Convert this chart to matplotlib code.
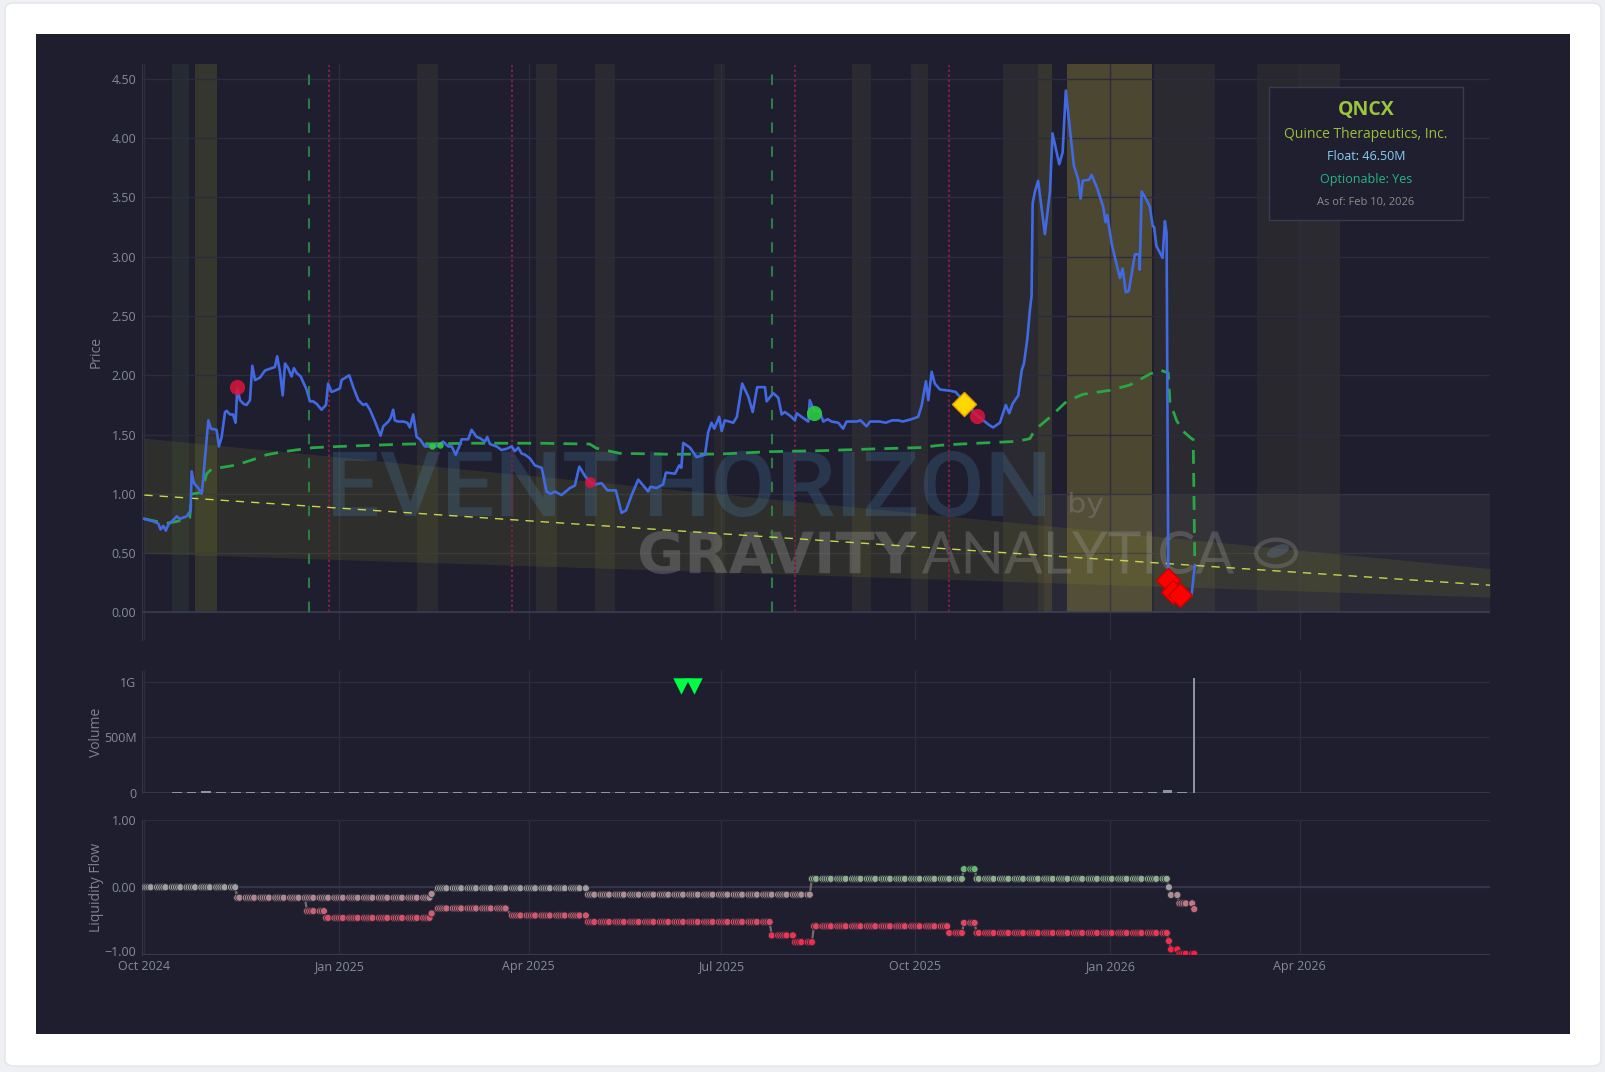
import numpy as np
import pandas as pd
import matplotlib
matplotlib.use("Agg")
import matplotlib.pyplot as plt
import matplotlib.dates as mdates
from matplotlib.colors import LinearSegmentedColormap, Normalize
from matplotlib.patches import Rectangle, FancyBboxPatch, PathPatch, Circle, Ellipse
from matplotlib.textpath import TextPath
from matplotlib.font_manager import FontProperties
from matplotlib.transforms import Affine2D, ScaledTranslation

plt.rcParams["font.family"] = ["Open Sans", "DejaVu Sans"]

W, H = 1606, 1072
BG = "#1e1e2e"
START = pd.Timestamp("2024-10-01")

# ---- price (days after START) ----
price_day = [0, 4, 6.6, 7.7, 9, 10.2, 11.3, 13.7, 15.3, 16.8, 20, 21.9, 22.4, 23.5, 25.5, 27.1, 27.9, 28.5,
             30.3, 31.5, 34.2, 35.3, 36.6, 38.2, 39, 40.5, 42, 43.2, 44, 45.3, 46.9, 48.4, 50, 51.1, 52.4,
             54.7, 57.1, 60.3, 61.8, 62.9, 64.2, 65.5, 66.6, 68.1, 69.7, 70.8, 72.1, 74, 76.8, 78.4, 79.9,
             81.5, 83.9, 86, 87, 88.6, 90.2, 92.6, 93.4, 97, 98.9, 101.3, 103.6, 105, 106.8, 109.2, 111.8,
             113.1, 115.5, 116.6, 117.8, 118.6, 120, 122.6, 124.5, 125.7, 127.3, 128.9, 130.5, 132.8, 135.2,
             138, 141.5, 143.9, 145.5, 147.4, 149.1, 150.2, 153.3, 154.9, 157.3, 158.9, 161.2, 162.3, 163.6,
             166.8, 169.1, 171.5, 173.9, 175.4, 177, 178.6, 180.2, 182.5, 184.9, 188.1, 190.4, 192.3, 194.3,
             197.5, 201.5, 203.8, 205.9, 208.6, 210.9, 213.3, 216.5, 219.2, 223.2, 225.9, 228, 230.7, 233.8,
             236.2, 238.5, 239.5, 242.5, 245.6, 246.9, 251.2, 253.2, 254.2, 255.1, 258.3, 261.4, 265.4, 266.9,
             268.5, 269.8, 272.1, 273.3, 274.8, 278.8, 280.5, 283, 285.9, 288, 290.1, 293.8, 294.6, 297.7,
             300.1, 301.7, 303.2, 305.6, 308, 308.8, 311.1, 314.3, 315, 317, 319.5, 321.4, 323.5, 325.3,
             328.5, 330.8, 332.4, 337.2, 339, 341.9, 343.5, 348, 351, 354, 357, 359, 363.2, 366.3, 367.9,
             370, 371.1, 372.7, 374.2, 376.6, 381.3, 384, 386, 388, 390, 392.4, 394.3, 397.1, 400, 401.8,
             405, 407.8, 409.4, 411, 413.7, 415.3, 416.4, 418, 419.2, 420, 420.5, 421.6, 423.1, 426.3, 428.7,
             429.9, 433.1, 434.7, 436.2, 440, 442.1, 443.2, 444.2, 447.3, 448.4, 450.8, 453.9, 455, 455.8,
             457.9, 460.2, 461.8, 463.1, 464.6, 466, 468.9, 470.9, 471.2, 472.1, 474.4, 476, 477.3, 478,
             479.1, 482, 483.1, 483.9, 484.7, 486, 488, 490, 495.7, 497.3]
price_val = [0.79, 0.77, 0.75, 0.70, 0.73, 0.69, 0.74, 0.78, 0.81, 0.79, 0.81, 0.86, 1.19, 1.09, 1.05, 1.00, 1.12, 1.26,
             1.62, 1.55, 1.54, 1.40, 1.48, 1.69, 1.70, 1.67, 1.67, 1.60, 1.89, 1.79, 1.76, 1.75, 1.79, 2.08, 1.96,
             1.98, 2.04, 2.06, 2.07, 2.16, 2.03, 1.83, 2.10, 2.06, 1.99, 2.06, 2.02, 1.99, 1.88, 1.78, 1.78,
             1.76, 1.71, 1.75, 1.93, 1.86, 1.87, 1.89, 1.96, 2.00, 1.90, 1.79, 1.75, 1.76, 1.71, 1.61, 1.49,
             1.57, 1.61, 1.64, 1.71, 1.62, 1.61, 1.61, 1.60, 1.56, 1.67, 1.48, 1.46, 1.40, 1.40,
             1.40, 1.44, 1.40, 1.40, 1.33, 1.40, 1.46, 1.46, 1.54, 1.48, 1.47, 1.44, 1.48, 1.42,
             1.40, 1.37, 1.38, 1.40, 1.36, 1.39, 1.34, 1.33, 1.30, 1.24, 1.22, 1.02, 1.00, 1.02,
             0.99, 1.05, 1.07, 1.23, 1.15, 1.10, 1.08, 1.09, 1.03, 1.03, 0.84, 0.86, 0.99, 1.12,
             1.07, 1.02, 1.06, 1.05, 1.08, 1.18, 1.17, 1.24, 1.22, 1.43, 1.39, 1.31, 1.33, 1.52,
             1.60, 1.55, 1.65, 1.53, 1.62, 1.60, 1.65, 1.93, 1.82, 1.69, 1.90, 1.90, 1.78, 1.85,
             1.81, 1.67, 1.69, 1.66, 1.62, 1.68, 1.65, 1.61, 1.79, 1.70, 1.70, 1.61, 1.63, 1.61,
             1.60, 1.55, 1.61, 1.61, 1.62, 1.57, 1.61, 1.61, 1.60, 1.62, 1.62, 1.61, 1.63, 1.65, 1.74,
             1.95, 1.79, 2.03, 1.93, 1.88, 1.87, 1.86, 1.82, 1.78, 1.78, 1.69, 1.66, 1.62, 1.58, 1.56,
             1.60, 1.75, 1.68, 1.76, 1.83, 2.04, 2.10, 2.31, 2.55, 2.67, 3.45, 3.55, 3.64, 3.19, 3.55,
             4.04, 3.78, 3.88, 4.40, 3.77, 3.65, 3.49, 3.64, 3.65, 3.69, 3.59, 3.42, 3.29, 3.35,
             3.11, 2.94, 2.82, 2.90, 2.70, 2.71, 3.02, 3.02, 2.89, 3.55, 3.48, 3.42, 3.26, 3.25,
             3.09, 2.99, 3.30, 3.20, 0.37, 0.28, 0.18, 0.15, 0.14, 0.40]

# dashed green level line
level_day = [0, 10, 16, 21.5, 22.5, 27, 29.5, 31.9, 37.4, 43.7, 51.6, 57.9, 65.8, 80, 92.6, 108.3, 124.2,
             155.7, 187.3, 210.9, 214, 225, 248.7, 272.4, 296, 319.8, 343.5, 367, 376.6, 386.1, 413,
             419.2, 421.6, 428.7, 436.6, 444.4, 457, 466.5, 476, 480.7, 484.7, 485.5, 488.7, 491.8,
             495.7, 496.5, 497.3]
level_val = [0.79, 0.75, 0.77, 0.80, 1.00, 1.01, 1.17, 1.21, 1.225, 1.244, 1.29, 1.33, 1.356, 1.39, 1.40, 1.41, 1.42,
             1.427, 1.427, 1.42, 1.385, 1.342, 1.334, 1.336, 1.356, 1.364, 1.378, 1.39, 1.41, 1.42, 1.443,
             1.466, 1.54, 1.647, 1.78, 1.84, 1.873, 1.918, 2.01, 2.045, 2.02, 1.77, 1.617, 1.527,
             1.466, 1.46, 0.38]

# trend channel
trend_day = [0, 637]
trend_mid = [0.99, 0.23]
trend_hi = [1.47, 0.37]
trend_lo = [0.50, 0.13]

# sub-$1 zone on the right
zone_day = [426, 637]
zone_val = [0, 1.0]

# background regime bands
band_start = [13.1, 24, 129, 185.2, 213.3, 269.6, 335, 363, 406.3, 423.1, 436.6, 478, 526.5, 546]
band_end = [21.1, 34.2, 139, 195.2, 223, 274.8, 344.2, 371, 423.1, 429.5, 476.8, 507, 546, 566]
band_color = ["#252a33", "#35362d", "#2b2a31", "#2b2a31", "#2b2a31", "#27262e", "#2b2a31", "#2b2a31",
              "#2b2a31", "#37352f", "#4c4731", "#2b2a31", "#29282f", "#2b2a30"]

green_vline_day = [78, 297.2]
red_vline_day = [87.3, 174, 307.9, 381]

# signal markers
sell_day = [44, 394.3]
sell_val = [1.90, 1.653]
small_sell_day = [210.9]
small_sell_val = [1.10]
small_buy_day = [136, 140]
small_buy_val = [1.40, 1.41]
buy_day = [317]
buy_val = [1.685]
warn_day = [388]
warn_val = [1.76]
exit_day = [484.8, 486.8, 490.2]
exit_val = [0.277, 0.173, 0.147]

# volume (weekly bars, millions) + last-day spike
vol_day = [13, 20, 27, 34, 41, 48, 55, 62, 69, 76, 83, 90, 97, 104, 111, 118, 125, 132, 139, 146, 153, 160,
           167, 174, 181, 188, 195, 202, 209, 216, 223, 230, 237, 244, 251, 258, 265, 272, 279, 286, 293, 300,
           307, 314, 321, 328, 335, 342, 349, 356, 363, 370, 377, 384, 391, 398, 405, 412, 419, 426, 433, 440,
           447, 454, 461, 468, 475, 482, 489]
vol_m = [9, 11, 16, 10, 9, 12, 8, 9, 10, 9, 8, 10, 9, 8, 9, 10, 8, 9, 9, 8, 10, 9,
         8, 9, 10, 8, 9, 9, 10, 8, 9, 10, 9, 8, 10, 9, 8, 9, 10, 9, 8, 9,
         10, 9, 8, 9, 10, 9, 8, 9, 10, 9, 8, 9, 10, 9, 8, 9, 10, 9, 8, 9,
         10, 9, 8, 9, 12, 26, 12]
spike_day = [497]
spike_m = [1035]
vol_signal_day = [254, 260.3]
vol_signal_m = [964, 964]

# liquidity flow step levels
flow_day = [0, 44, 136, 139, 210, 316, 388, 394, 485, 486, 490, 497]
flow_val = [0.0, -0.156, -0.10, -0.015, -0.11, 0.125, 0.27, 0.125, 0.0, -0.115, -0.24, -0.325]
pressure_day = [0, 44, 77, 86, 136, 139, 173, 210, 297, 308, 317, 381, 388, 394, 485, 486, 490]
pressure_val = [0.0, -0.156, -0.355, -0.456, -0.39, -0.315, -0.42, -0.516, -0.716, -0.816, -0.58, -0.68,
                -0.53, -0.68, -0.80, -0.925, -0.99]
last_day = 497

assert len(price_day) == len(price_val)
assert len(level_day) == len(level_val)
assert len(vol_day) == len(vol_m)


def D(days):
    td = pd.to_timedelta(np.asarray(days, dtype=float), unit="D")
    return mdates.date2num((START + td).to_numpy())


def px(x, y):
    return x / W, 1 - y / H


fig = plt.figure(figsize=(W / 100, H / 100), dpi=100, facecolor="#eef0f4")
fig.add_artist(FancyBboxPatch((5 / W, 1 - 1066 / H), 1596 / W, 1063 / H,
                              boxstyle="round,pad=0,rounding_size=0.006", transform=fig.transFigure,
                              fc="white", ec="#e3e5ea", lw=1, zorder=-10))
fig.add_artist(Rectangle((36 / W, 1 - 1034 / H), 1534 / W, 1000 / H, transform=fig.transFigure,
                         fc=BG, ec="none", zorder=-9))

L, AW = 142 / W, 1348 / W
axp = fig.add_axes([L, 1 - 640 / H, AW, 576.5 / H])
axv = fig.add_axes([L, 1 - 793 / H, AW, 122 / H], sharex=axp)
axl = fig.add_axes([L, 1 - 954.5 / H, AW, 134.5 / H], sharex=axp)

TICK = "#868a99"
GRID = "#2c2c3e"
for ax in (axp, axv, axl):
    ax.set_facecolor(BG)
    ax.set_axisbelow(True)
    for s in ("top", "right", "bottom"):
        ax.spines[s].set_visible(False)
    ax.spines["left"].set_color("#35354a")
    ax.grid(True, color=GRID, lw=1)
    ax.tick_params(length=0, colors=TICK, labelsize=9, pad=4)
    ax.xaxis_date()

axp.set_xlim(D([-1.1])[0], D([637])[0])
axp.xaxis.set_major_locator(mdates.MonthLocator(bymonth=[1, 4, 7, 10]))
axp.xaxis.set_major_formatter(mdates.DateFormatter("%b %Y"))
axp.tick_params(axis="x", labelbottom=False)
axv.tick_params(axis="x", labelbottom=False)
axl.tick_params(axis="x", pad=4)

# ---- price panel ----
ylo, yhi = -0.232, 4.629
axp.set_ylim(ylo, yhi)
axp.set_yticks(np.arange(0, 4.51, 0.5))
axp.set_yticklabels([f"{v:.2f}" for v in np.arange(0, 4.51, 0.5)])
zero_frac = -ylo / (yhi - ylo)
for a, b, c in zip(band_start, band_end, band_color):
    axp.axvspan(D([a])[0], D([b])[0], ymin=zero_frac, ymax=1, color=c, lw=0, zorder=0.2)
axp.axhline(0, color="#3a3a4e", lw=1.2, zorder=0.6)

axp.fill_between(D(zone_day), zone_val[0], zone_val[1], color="#b4b4a0", alpha=0.07, lw=0, zorder=0.65)
axp.fill_between(D(trend_day), trend_lo, trend_hi, color="#a0a020", alpha=0.13, lw=0, zorder=0.7)
axp.plot(D(trend_day), trend_mid, color="#c9d64c", lw=1.0, ls=(0, (6, 5)), zorder=2)

axp.vlines(D(green_vline_day), 0, 4.55, colors="#2b7d40", lw=1.5, linestyles=(0, (5, 6.5)), zorder=1.8)
axp.vlines(D(red_vline_day), 0, 4.62, colors="#7a2040", lw=1.5, linestyles=(0, (1.2, 1.2)), zorder=1.8)


def stretched(ax, s, box, fp, color, alpha, z=1.5):
    x0, y0, x1, y1 = box
    tp = TextPath((0, 0), s, size=100, prop=fp)
    bb = tp.get_extents()
    sx = (x1 - x0) / W / bb.width
    sy = (y1 - y0) / H / bb.height
    tr = Affine2D().translate(-bb.x0, -bb.y0).scale(sx, sy).translate(x0 / W, 1 - y1 / H) + fig.transFigure
    ax.add_artist(PathPatch(tp, transform=tr, fc=color, ec="none", alpha=alpha, zorder=z, clip_on=False))


stretched(axp, "EVENT HORIZON", (333, 451, 1045, 517),
          FontProperties(family=["Roboto", "DejaVu Sans"], weight="medium"), "#4a8ab5", 0.24)
stretched(axp, "by", (1070, 492, 1103, 518), FontProperties(family="DejaVu Sans"), "#9a9aa6", 0.3)
stretched(axp, "GRAVITY", (640, 531, 917, 574), FontProperties(family="DejaVu Sans", weight="bold"),
          "#a0a0a4", 0.32)
stretched(axp, "ANALYTICA", (922, 531, 1234, 574), FontProperties(family="Lato", weight="normal"),
          "#a0a0a4", 0.3)
cx, cy = px(1276, 553)
fig.add_artist(Circle((cx, cy), 20 / W, transform=fig.transFigure, fc="none", ec="#a0a0a4",
                      lw=3, alpha=0.28))
fig.add_artist(Ellipse((cx + 2 / W, cy + 2 / H), 26 / W, 10 / H, angle=40, transform=fig.transFigure,
                       fc="#5a6a80", ec="none", alpha=0.45))

axp.plot(D(level_day), level_val, color="#28a745", lw=2.0, ls=(0, (5, 3.3)), zorder=3)
axp.plot(D(price_day), price_val, color="#4169e1", lw=1.9, zorder=4, solid_joinstyle="round")

axp.scatter(D(sell_day), sell_val, s=120, color="#dc143c", alpha=0.85, lw=0, zorder=6)
axp.scatter(D(small_sell_day), small_sell_val, s=60, color="#dc143c", alpha=0.85, lw=0, zorder=6)
axp.scatter(D(small_buy_day), small_buy_val, s=22, color="#2ecc40", alpha=0.9, lw=0, zorder=6)
axp.scatter(D(buy_day), buy_val, s=120, color="#2ecc40", alpha=0.9, lw=0, zorder=6)
axp.scatter(D(warn_day), warn_val, s=150, marker="D", color="#ffd700", edgecolor="#e0a000", lw=1, zorder=6)
axp.scatter(D(exit_day), exit_val, s=150, marker="D", color="#ff0000", edgecolor="#c80000", lw=1, zorder=6)

# ---- volume panel ----
axv.set_ylim(0, 1.099e9)
axv.bar(D(vol_day), np.array(vol_m) * 1e6, width=4.6, align="edge", color="#8d94a3", lw=0, zorder=3)
axv.bar(D(spike_day), np.array(spike_m) * 1e6, width=1.1, color="#8c93a0", lw=0, zorder=3)
axv.scatter(D(vol_signal_day), np.array(vol_signal_m) * 1e6, marker="v", s=140, color="#00ff44", lw=0, zorder=5)
axv.set_yticks([0, 5e8, 1e9])
axv.set_yticklabels(["0", "500M", "1G"])
axv.axhline(0, color="#3a3a4e", lw=1.2, zorder=2)

# ---- liquidity flow panel ----
axl.set_ylim(-1, 1)
axl.set_yticks([-1, 0, 1])
axl.set_yticklabels(["\u22121.00", "0.00", "1.00"])
lab = axl.get_yticklabels()[0]
lab.set_transform(lab.get_transform() + ScaledTranslation(0, 3 / 100, fig.dpi_scale_trans))
axl.axhline(0, color="#34344a", lw=1.5, zorder=0.6)
axl.axhline(-1, color="#3a3a4e", lw=1.5, zorder=0.6)
liq_dates = pd.bdate_range(START, START + pd.Timedelta(days=last_day))
liq_days = (liq_dates - START).days.to_numpy()
cmap = LinearSegmentedColormap.from_list("liq", [(0, "#ff1a40"), (0.25, "#de4a64"), (0.425, "#b08890"),
                                                 (0.5, "#9e9e9e"), (0.56, "#8fae90"), (0.65, "#5ebc6e"),
                                                 (1, "#22dd44")])
norm = Normalize(-1, 1)
for sd, sv in ((pressure_day, pressure_val), (flow_day, flow_val)):
    vals = np.asarray(sv)[np.searchsorted(sd, liq_days, side="right") - 1]
    xs = D(liq_days)
    axl.plot(xs, vals, color="#6e6e72", lw=1.6, zorder=3)
    axl.scatter(xs, vals, c=vals, cmap=cmap, norm=norm, s=26, edgecolors="#2a2a36", linewidths=0.6, zorder=4)

for ax, name in ((axp, "Price"), (axv, "Volume"), (axl, "Liquidity Flow")):
    ax.set_ylabel(name, color="#7e8290", fontsize=10, va="center")
    ax.yaxis.set_label_coords((96 - 142) / 1348, 0.5)

# ---- info box ----
x0, y0 = px(1269, 220)
fig.add_artist(Rectangle((x0, y0), 194 / W, 133 / H, transform=fig.transFigure, fc="#1f1f2f",
                         ec="#3a3a50", lw=1, zorder=5))
cxb = 1366 / W
fig.text(cxb, px(0, 110)[1], "QNCX", color="#9bc53d", fontsize=14, fontweight="bold", ha="center", va="center", zorder=6)
fig.text(cxb, px(0, 134)[1], "Quince Therapeutics, Inc.", color="#9bbf3d", fontsize=10, ha="center", va="center", zorder=6)
fig.text(cxb, px(0, 157)[1], "Float: 46.50M", color="#87cefa", fontsize=9, ha="center", va="center", zorder=6)
fig.text(cxb, px(0, 179)[1], "Optionable: Yes", color="#28b482", fontsize=9, ha="center", va="center", zorder=6)
fig.text(cxb, px(0, 202)[1], "As of: Feb 10, 2026", color="#8c8c8c", fontsize=8, ha="center", va="center", zorder=6)

fig.savefig("out.png", dpi=100, facecolor=fig.get_facecolor())
